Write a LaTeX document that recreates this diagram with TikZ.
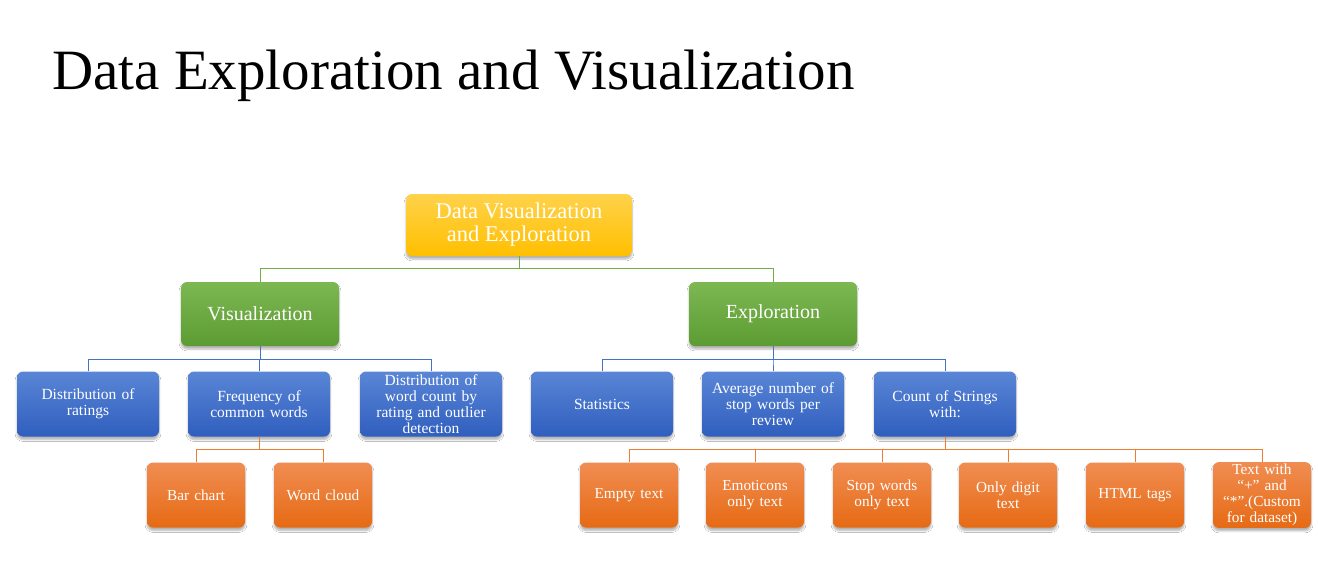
\documentclass[tikz,border=0pt]{standalone}
\usepackage{fontspec}
\setmainfont{Liberation Serif}
\usetikzlibrary{shadows.blur}
\definecolor{rootTop}{HTML}{FFD24A}
\definecolor{rootBot}{HTML}{FFBF00}
\definecolor{grnTop}{HTML}{7DB853}
\definecolor{grnBot}{HTML}{5C9B32}
\definecolor{bluTop}{HTML}{5A86D6}
\definecolor{bluBot}{HTML}{2F5EBE}
\definecolor{orgTop}{HTML}{F08D52}
\definecolor{orgBot}{HTML}{E66A14}
\definecolor{grnLine}{HTML}{70AD47}
\definecolor{bluLine}{HTML}{4472C4}
\definecolor{orgLine}{HTML}{ED7D31}
\tikzset{
  box/.style={rounded corners=6pt, align=center, text=white, inner sep=2pt,
    blur shadow={shadow xshift=0pt, shadow yshift=-3pt, shadow blur steps=6, shadow opacity=30}},
  rootbox/.style={box, top color=rootTop, bottom color=rootBot, minimum width=226pt,
    minimum height=62pt, font=\fontsize{22.5}{23}\selectfont, text=white},
  grnbox/.style={box, top color=grnTop, bottom color=grnBot, minimum height=64pt,
    font=\fontsize{20}{22}\selectfont},
  blubox/.style={box, top color=bluTop, bottom color=bluBot, minimum width=142pt,
    minimum height=65pt, text width=138pt, font=\fontsize{15.5}{16}\selectfont},
  orgbox/.style={box, top color=orgTop, bottom color=orgBot, minimum width=98pt,
    minimum height=65pt, text width=94pt, font=\fontsize{15.3}{16}\selectfont},
  glink/.style={draw=grnLine, line width=1pt},
  blink/.style={draw=bluLine, line width=1pt},
  olink/.style={draw=orgLine, line width=1pt},
}
\begin{document}
\begin{tikzpicture}[x=1pt, y=-1pt]
\useasboundingbox[fill=white] (0,0) rectangle (1318,565);

% title
\node[anchor=base west, font=\fontsize{57}{62}\selectfont, inner sep=0pt] (title) at (52,89) {Data Exploration and Visualization};

% root and second level
\node[rootbox] (root) at (519,225) {Data Visualization\\and Exploration};
\node[grnbox, minimum width=158pt] (vis) at (260,314) {Visualization};
\node[grnbox, minimum width=168pt] (exp) at (773,314) {Exploration};

% third level
\node[blubox] (dr)   at (88,404)  {Distribution of\\ratings};
\node[blubox] (freq) at (259,404) {Frequency of\\common words};
\node[blubox] (dwc)  at (431,404) {Distribution of\\word count by\\rating and outlier\\detection};
\node[blubox] (stat) at (602,404) {Statistics};
\node[blubox] (avg)  at (773,404) {Average number of\\stop words per\\review};
\node[blubox] (cnt)  at (945,404) {Count of Strings\\with:};

% fourth level
\node[orgbox] (bar)   at (196,495)  {Bar chart};
\node[orgbox] (cloud) at (323,495)  {Word cloud};
\node[orgbox] (empty) at (629,495)  {Empty text};
\node[orgbox] (emo)   at (755,495)  {Emoticons\\only text};
\node[orgbox] (stop)  at (882,495)  {Stop words\\only text};
\node[orgbox] (digit) at (1008,495) {Only digit\\text};
\node[orgbox] (html)  at (1135,495) {HTML tags};
\node[orgbox] (plus)  at (1262,495) {Text with\\``+'' and\\``*''.(Custom\\for dataset)};

% connectors
\foreach \c in {vis,exp} \draw[glink] (root.south) -- ++(0,12) -| (\c.north);
\foreach \c in {dr,freq,dwc} \draw[blink] (vis.south) -- ++(0,13) -| (\c.north);
\foreach \c in {stat,avg,cnt} \draw[blink] (exp.south) -- ++(0,13) -| (\c.north);
\foreach \c in {bar,cloud} \draw[olink] (freq.south) -- ++(0,13) -| (\c.north);
\foreach \c in {empty,emo,stop,digit,html,plus} \draw[olink] (cnt.south) -- ++(0,13) -| (\c.north);
\end{tikzpicture}
\end{document}
